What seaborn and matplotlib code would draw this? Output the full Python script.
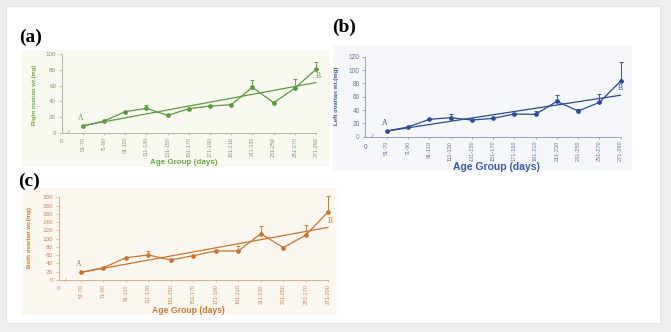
import numpy as np
import pandas as pd
import matplotlib
matplotlib.use("Agg")
import matplotlib.pyplot as plt
from matplotlib.patches import Rectangle
import seaborn as sns

# ---- data -------------------------------------------------------------
age_groups = ["51-70", "71-90", "91-110", "111-130", "131-150", "151-170",
              "171-190", "191-210", "211-230", "231-250", "251-270", "271-290"]

right_wt = [8.5, 14.9, 26.8, 31.1, 22.1, 30.6, 34.0, 35.7, 57.9, 38.3, 56.6, 80.9]
right_se = [0, 0, 0, 4.2, 0, 0, 0, 0, 9.3, 2.0, 12.4, 9.7]

left_wt = [8.5, 14.5, 26.0, 28.5, 25.0, 27.5, 34.0, 33.5, 53.0, 38.5, 51.5, 83.5]
left_se = [0, 0, 0, 5.0, 0, 0, 2.0, 5.0, 9.5, 3.0, 13.0, 29.0]

both_wt = [18.5, 29.8, 54.0, 60.5, 48.4, 58.9, 70.2, 70.2, 112.0, 78.2, 108.9, 165.3]
both_se = [0, 0, 0, 9.5, 0, 0, 0, 11.3, 18.0, 0, 24.0, 38.7]

# ---- figure ----------------------------------------------------------------
sns.set_theme(style="white")
plt.rcParams["font.family"] = ["Liberation Sans", "DejaVu Sans"]

W, H = 671, 332
fig = plt.figure(figsize=(W / 100, H / 100), dpi=100, facecolor="#ededed")


def rect_px(x0, y0, x1, y1, color, z, ec="none"):
    fig.add_artist(Rectangle((x0 / W, 1 - y1 / H), (x1 - x0) / W, (y1 - y0) / H,
                             transform=fig.transFigure, facecolor=color,
                             edgecolor=ec, lw=0.6, zorder=z))


def axes_px(left, right, top, bottom):
    return fig.add_axes([left / W, 1 - bottom / H, (right - left) / W, (bottom - top) / H])


# white card
rect_px(6, 6, 660, 323, "white", -20, ec="#e2e2e2")


def draw_panel(ax, values, errs, ymax, color, tick_color, spine_color, text_color,
               ylabel, ylab_fs, xlab_fs, xtick_fs, ytick_fs, xlab_xy, ylab_xy,
               zero_off, b_off):
    pos = np.arange(1, len(age_groups) + 1)
    df = pd.DataFrame({"pos": pos, "wt": values, "se": errs})

    # linear trend
    sns.regplot(data=df, x="pos", y="wt", ax=ax, scatter=False, ci=None,
                truncate=True, color=color, line_kws=dict(lw=0.9, clip_on=False))
    # mean weights
    sns.lineplot(data=df, x="pos", y="wt", ax=ax, color=color, lw=0.9,
                 marker="o", markersize=3.4, markeredgewidth=0, clip_on=False)
    # upper error bars
    e = df[df["se"] > 0]
    ax.errorbar(e["pos"], e["wt"], yerr=[np.zeros(len(e)), e["se"]], fmt="none",
                ecolor=color, elinewidth=0.65, capsize=1.7, capthick=0.65, clip_on=False)

    ax.set_facecolor("none")
    ax.set_xlim(0, len(age_groups))
    ax.set_ylim(0, ymax)
    for s in ("top", "right"):
        ax.spines[s].set_visible(False)
    for s in ("left", "bottom"):
        ax.spines[s].set_color(spine_color)
        ax.spines[s].set_linewidth(0.6)

    ax.set_xticks(pos)
    ax.set_xticklabels(age_groups, rotation=90, fontsize=xtick_fs, color=tick_color)
    ax.set_yticks(np.arange(0, ymax + 1, 20))
    ax.tick_params(axis="y", labelsize=ytick_fs, labelcolor=tick_color, length=2.5,
                   width=0.5, color=spine_color, pad=1.5, left=True)
    ax.tick_params(axis="x", length=1.5, width=0.5, color=spine_color, pad=1.5, bottom=True)

    ax.set_xlabel("Age Group (days)", fontsize=xlab_fs, fontweight="bold",
                  color=text_color, va="center")
    ax.xaxis.set_label_coords(*xlab_xy)
    ax.set_ylabel(ylabel, fontsize=ylab_fs, fontweight="bold", color=text_color,
                  va="center")
    ax.yaxis.set_label_coords(*ylab_xy)

    # origin label and axis break
    ax.annotate("0", xy=(0, 0), xytext=(0, -zero_off), textcoords="offset pixels",
                ha="center", va="center", fontsize=ytick_fs, color=tick_color,
                annotation_clip=False)
    ax.annotate("//", xy=(0.3, 0), ha="center", va="center", fontsize=4.5,
                style="italic", color=spine_color, annotation_clip=False)

    # end labels of the trend
    slope, icpt = np.polyfit(pos, values, 1)
    ax.annotate("A", xy=(pos[0], values[0]), xytext=(-2, 8), textcoords="offset pixels",
                ha="center", va="center", fontsize=5.5, color=color,
                family=["Liberation Serif", "DejaVu Serif"])
    ax.annotate("B", xy=(pos[-1], slope * pos[-1] + icpt), xytext=b_off,
                textcoords="offset pixels", ha="center", va="center", fontsize=5.5,
                color=color, family=["Liberation Serif", "DejaVu Serif"],
                annotation_clip=False)


# panel (a): right ovary
rect_px(21, 50, 330, 167, "#f9f9f2", -10)
ax_a = axes_px(61.7, 316.0, 54.3, 132.7)
draw_panel(ax_a, right_wt, right_se, 100, "#5c9a3c", "#7d9a68", "#9fb08f", "#6aa848",
           "Right ovarian wt.(mg)", 4.2, 5.8, 3.9, 4.5, (0.48, -0.383), (-0.107, 0.48),
           9, (2, 7))

# panel (b): left ovary
rect_px(333, 45, 632, 171, "#f5f7fb", -10)
ax_b = axes_px(365.4, 620.7, 56.7, 136.7)
draw_panel(ax_b, left_wt, left_se, 120, "#2b4a96", "#63749c", "#8795b5", "#3a5aa6",
           "Left ovarian wt.(mg)", 4.4, 7.5, 4.1, 4.7, (0.515, -0.383), (-0.115, 0.51),
           11, (0, 7))

# panel (c): both ovaries
rect_px(22, 188, 337, 315, "#fdf7f1", -10)
ax_c = axes_px(58.5, 328.3, 197.3, 280.0)
draw_panel(ax_c, both_wt, both_se, 200, "#c8742e", "#c98450", "#d6a37c", "#c87a38",
           "Both ovarian wt.(mg)", 4.4, 6.2, 3.9, 4.5, (0.48, -0.363), (-0.109, 0.51),
           8, (2, 6))

# panel letters
for lab, x, y in (("(a)", 31, 37), ("(b)", 344.5, 27.5), ("(c)", 29, 181.5)):
    fig.text(x / W, 1 - y / H, lab, ha="center", va="center", fontsize=14,
             fontweight="bold", family=["Liberation Serif", "DejaVu Serif"], color="black")

fig.savefig("out.png", dpi=100, facecolor=fig.get_facecolor())
